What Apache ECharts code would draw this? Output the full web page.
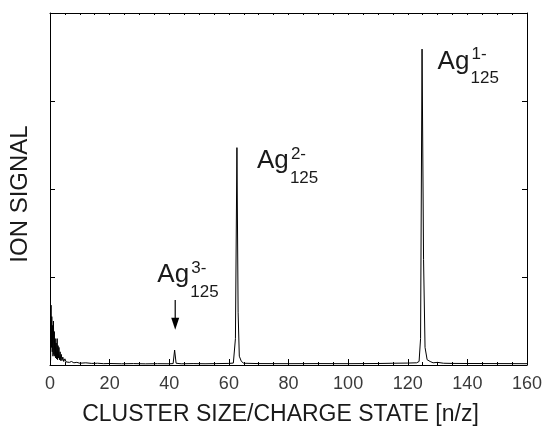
<!DOCTYPE html>
<html>
<head>
<meta charset="utf-8">
<script src="https://cdn.jsdelivr.net/npm/echarts@6/dist/echarts.min.js"></script>
<style>
  html, body { margin: 0; padding: 0; background: #fff; }
  #chart { width: 543px; height: 428px; }
</style>
</head>
<body>
<div id="chart"></div>
<script>
// spectrum: n/z vs ion signal (arb. units, 0..4)
const massX = [
  0.2, 0.35, 0.5, 0.6, 0.75, 0.9, 1.0, 1.15, 1.3, 1.45, 1.6, 1.75, 1.9, 2.05, 2.2, 2.4,
  2.55, 2.7, 2.85, 3.0, 3.2, 3.4, 3.6, 3.8, 4.0, 4.3, 4.6, 5.0, 5.4, 6.0, 6.5, 7.2,
  8.0, 9.0, 10, 12, 14, 16, 18, 20, 24, 28, 32, 36, 40, 41.3, 41.8, 42.3, 44, 48,
  52, 56, 60, 61.5, 62.2, 62.7, 63.1, 63.5, 64.2, 65, 70, 80, 90, 100, 110, 115,
  120, 123, 123.8, 124.3, 124.8, 125.3, 125.8, 126.5, 127.5, 128.5, 130, 132, 135, 140, 150, 160
]
const signal = [
  0.05, 0.68, 0.2, 0.55, 0.15, 0.45, 0.1, 0.5, 0.12, 0.38, 0.1, 0.3, 0.08, 0.25, 0.07, 0.3,
  0.06, 0.22, 0.08, 0.2, 0.06, 0.15, 0.05, 0.12, 0.05, 0.09, 0.04, 0.07, 0.035, 0.05, 0.03, 0.04,
  0.025, 0.03, 0.02, 0.025, 0.018, 0.02, 0.015, 0.017, 0.014, 0.016, 0.013, 0.015, 0.014, 0.016, 0.17, 0.02, 0.014, 0.016,
  0.014, 0.016, 0.018, 0.022, 0.3, 2.47, 0.6, 0.1, 0.04, 0.02, 0.016, 0.015, 0.016, 0.015, 0.017, 0.02,
  0.022, 0.025, 0.04, 0.3, 3.59, 1.2, 0.2, 0.06, 0.04, 0.025, 0.03, 0.02, 0.018, 0.017, 0.016, 0.015
]

const xTicks = [0, 20, 40, 60, 80, 100, 120, 140, 160]

// peak labels: anchor [x, y] in data coords (left edge, cap middle of "Ag")
const labelCharge = ['1-', '2-', '3-']
const labelAnchorX = [130, 69.4, 36]
const labelAnchorY = [3.45, 2.32, 1.02]

// arrow to the 3- peak
const arrowX = 42
const arrowFrom = 0.74
const arrowTo = 0.40

const FONT = '"Liberation Sans", Arial, Helvetica, sans-serif'
const TXT = '#1a1a1a'

const chart = echarts.init(document.getElementById('chart'))

const tickStyle = { color: '#000', width: 1 }

chart.setOption({
  animation: false,
  backgroundColor: '#fff',
  grid: { left: 50, right: 16, top: 13, bottom: 63, outerBoundsMode: 'none' },
  xAxis: [{
    type: 'value',
    min: 0, max: 160, interval: 20,
    position: 'bottom',
    name: 'CLUSTER SIZE/CHARGE STATE [n/z]',
    nameLocation: 'middle',
    nameGap: 38,
    nameTextStyle: { fontFamily: FONT, fontSize: 23, color: TXT, padding: [0, 16, 0, 0] },
    axisLine: { show: true, onZero: false, lineStyle: { color: '#000', width: 1 } },
    axisTick: { show: true, inside: true, length: 6, lineStyle: tickStyle },
    minorTick: { show: true, splitNumber: 4, length: 3, lineStyle: tickStyle },
    axisLabel: {
      fontFamily: FONT, fontSize: 18, color: '#3a3a3a', margin: 10,
      formatter: v => xTicks.includes(v) ? String(v) : ''
    },
    splitLine: { show: false }
  }, {
    type: 'value',
    min: 0, max: 160, interval: 20,
    position: 'top',
    axisLine: { show: true, onZero: false, lineStyle: { color: '#000', width: 1 } },
    axisTick: { show: true, inside: true, length: 2, lineStyle: tickStyle },
    minorTick: { show: true, splitNumber: 4, length: 2, lineStyle: tickStyle },
    axisLabel: { show: false },
    splitLine: { show: false }
  }],
  yAxis: [{
    type: 'value',
    min: 0, max: 4, interval: 1,
    position: 'left',
    name: 'ION SIGNAL',
    nameLocation: 'middle',
    nameGap: 18,
    nameTextStyle: { fontFamily: FONT, fontSize: 24, color: TXT, padding: [0, 10, 0, 0] },
    axisLine: { show: true, onZero: false, lineStyle: { color: '#000', width: 1 } },
    axisTick: { show: true, inside: true, length: 5, lineStyle: tickStyle },
    axisLabel: { show: false },
    splitLine: { show: false }
  }, {
    type: 'value',
    min: 0, max: 4, interval: 1,
    position: 'right',
    axisLine: { show: true, onZero: false, lineStyle: { color: '#000', width: 1 } },
    axisTick: { show: true, inside: true, length: 5, lineStyle: tickStyle },
    axisLabel: { show: false },
    splitLine: { show: false }
  }],
  series: [{
    type: 'line',
    data: massX.map((x, i) => [x, signal[i]]),
    showSymbol: false,
    symbol: 'none',
    lineStyle: { color: '#000', width: 1 },
    clip: true
  }]
})

// annotations placed from data coords
const px = (x, y) => chart.convertToPixel({ xAxisIndex: 0, yAxisIndex: 0 }, [x, y])
const graphics = []
labelCharge.forEach((c, i) => {
  const [ax, ay] = px(labelAnchorX[i], labelAnchorY[i])
  graphics.push({
    type: 'text', x: ax, y: ay,
    style: { text: 'Ag', font: '26px ' + FONT, fill: TXT, align: 'left', verticalAlign: 'middle' }
  })
  graphics.push({
    type: 'text', x: ax + 34, y: ay - 7,
    style: { text: c, font: '17px ' + FONT, fill: TXT, align: 'left', verticalAlign: 'middle' }
  })
  graphics.push({
    type: 'text', x: ax + 33, y: ay + 17,
    style: { text: '125', font: '17px ' + FONT, fill: TXT, align: 'left', verticalAlign: 'middle' }
  })
})
const [x0, y0] = px(arrowX, arrowFrom)
const [x1, y1] = px(arrowX, arrowTo)
graphics.push({
  type: 'line',
  shape: { x1: x0, y1: y0, x2: x1, y2: y1 - 10 },
  style: { stroke: '#000', lineWidth: 1.2 }
})
graphics.push({
  type: 'polygon',
  shape: { points: [[x1 - 4, y1 - 12], [x1 + 4, y1 - 12], [x1, y1]] },
  style: { fill: '#000' }
})
chart.setOption({ graphic: graphics })
</script>
</body>
</html>
